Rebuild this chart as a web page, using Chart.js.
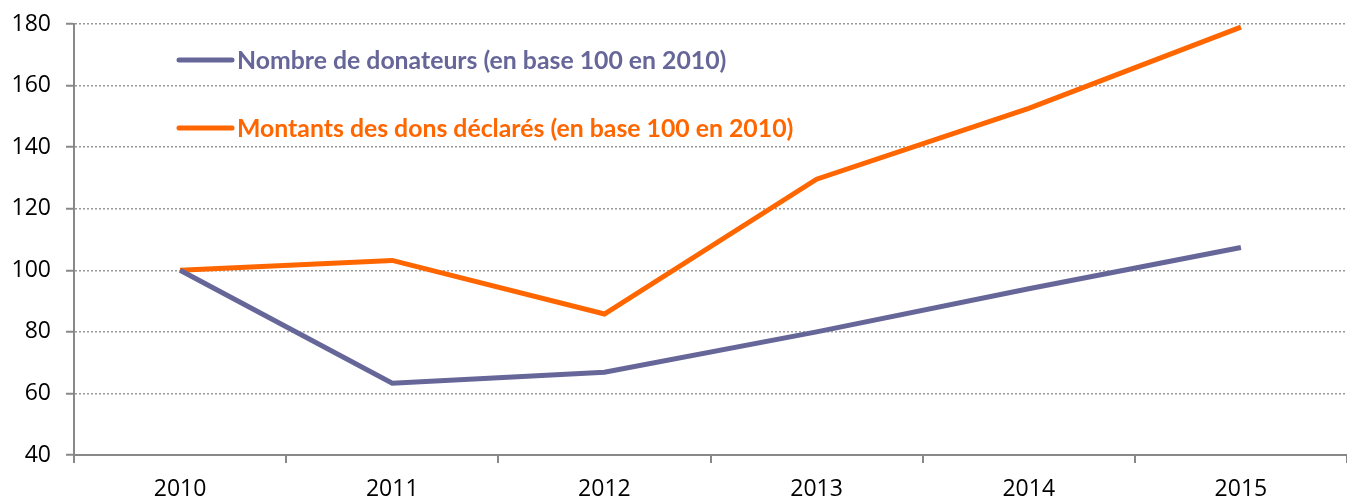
<!DOCTYPE html>
<html>
<head>
<meta charset="utf-8">
<script src="https://cdn.jsdelivr.net/npm/chart.js@4/dist/chart.umd.min.js"></script>
<style>
    html, body { margin: 0; padding: 0; background: #fff; }
    #wrap { width: 1347px; height: 498px; }
</style>
</head>
<body>
<div id="wrap"><canvas id="dons"></canvas></div>
<script>
// données
const annees = ['2010', '2011', '2012', '2013', '2014', '2015'];
const donateurs = [100, 63.3, 66.9, 80, 94, 107.4];
const montants = [100, 103.2, 85.8, 129.6, 152.6, 179];
const labelsSeries = ['Nombre de donateurs (en base 100 en 2010)', 'Montants des dons déclarés (en base 100 en 2010)'];
const yMin = 40, yMax = 180, yPas = 20;

const violet = '#666699';
const orange = '#FF6600';

// légende dessinée dans la zone du graphique
const legendeInterne = {
    id: 'legendeInterne',
    afterDraw(chart) {
        const ctx = chart.ctx;
        const x0 = chart.chartArea.left + 105;
        const lignesY = [60, 128];
        ctx.save();
        ctx.font = 'bold 24.8px Lato';
        ctx.textBaseline = 'middle';
        ctx.lineCap = 'round';
        chart.data.datasets.forEach((ds, i) => {
            const y = lignesY[i];
            ctx.strokeStyle = ds.borderColor;
            ctx.lineWidth = 5;
            ctx.beginPath();
            ctx.moveTo(x0, y);
            ctx.lineTo(x0 + 53, y);
            ctx.stroke();
            ctx.fillStyle = ds.borderColor;
            ctx.fillText(ds.label, x0 + 58, y + 1);
        });
        ctx.restore();
    }
};

new Chart(document.getElementById('dons'), {
    type: 'line',
    data: {
        labels: annees,
        datasets: [
            {
                label: labelsSeries[0],
                data: donateurs,
                borderColor: violet,
                backgroundColor: violet,
                borderWidth: 5,
                pointRadius: 0,
                tension: 0
            },
            {
                label: labelsSeries[1],
                data: montants,
                borderColor: orange,
                backgroundColor: orange,
                borderWidth: 5,
                pointRadius: 0,
                tension: 0
            }
        ]
    },
    options: {
        responsive: true,
        maintainAspectRatio: false,
        animation: false,
        layout: { padding: { top: 24, right: 0, left: 0, bottom: 0 } },
        plugins: {
            legend: { display: false },
            tooltip: { enabled: false }
        },
        scales: {
            x: {
                offset: true,
                afterFit(scale) {
                    scale.height = 43;
                    scale.paddingLeft = 0;
                    scale.paddingRight = 0;
                },
                grid: {
                    offset: true,
                    drawOnChartArea: false,
                    color: '#888',
                    lineWidth: 2,
                    tickLength: 8
                },
                border: { color: '#888', width: 2 },
                ticks: {
                    color: '#000',
                    font: { family: 'Open Sans', size: 23 },
                    padding: 13,
                    maxRotation: 0
                }
            },
            y: {
                min: yMin,
                max: yMax,
                afterFit(scale) {
                    scale.width = 74;
                    scale.paddingTop = 0;
                    scale.paddingBottom = 0;
                },
                grid: {
                    color: '#999',
                    lineWidth: 1.5,
                    tickLength: 8,
                    tickColor: '#888',
                    tickWidth: 2,
                    tickBorderDash: []
                },
                border: { color: '#888', width: 2, dash: [2, 2] },
                ticks: {
                    stepSize: yPas,
                    color: '#000',
                    font: { family: 'Open Sans', size: 23, lineHeight: 1 },
                    padding: 15
                }
            }
        }
    },
    plugins: [legendeInterne]
});
</script>
</body>
</html>
